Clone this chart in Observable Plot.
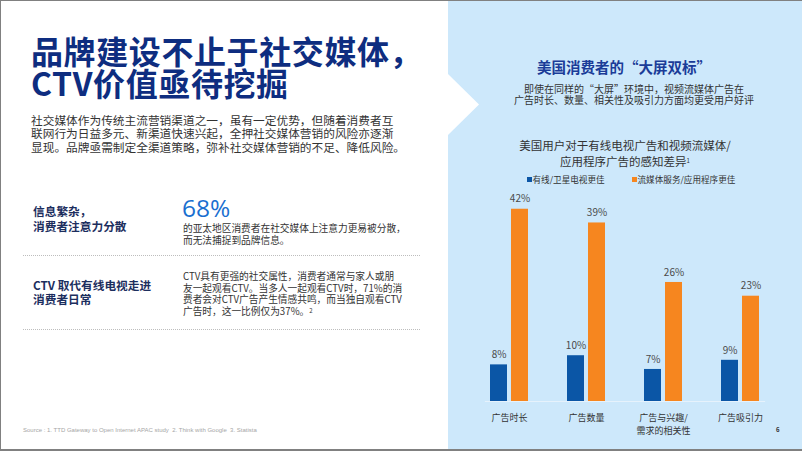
<!DOCTYPE html>
<html>
<head>
<meta charset="utf-8">
<script src="https://cdn.jsdelivr.net/npm/d3@7"></script>
<script src="https://cdn.jsdelivr.net/npm/@observablehq/plot@0.6"></script>
<style>
  html, body { margin: 0; padding: 0; background: #fff; }
  #slide { position: relative; width: 802px; height: 451px; overflow: hidden; background: #fff;
           font-family: "Noto Sans CJK SC", "Noto Sans", sans-serif; color: #333; }
  .ln { position: absolute; white-space: nowrap; overflow: visible; }
  #panel { position: absolute; left: 448px; top: 0; width: 354px; height: 451px; background: #cde8fb; }
  #chevron { position: absolute; left: 448px; top: 74px; width: 31px; height: 61px; background: #fff;
             clip-path: polygon(0 0, 100% 50%, 0 100%); }
  #frame { position: absolute; left: 0; top: 0; width: 802px; height: 451px; box-sizing: border-box;
           border-top: 1px solid #808080; border-left: 1px solid #808080; border-bottom: 2px solid #808080; pointer-events: none; }
  .dots { position: absolute; left: 23px; width: 397px; height: 0; border-top: 1.5px dotted #bdbdbd; }
  .sup { font-size: 6px; vertical-align: top; position: relative; top: -1px; }
  .sw { position: absolute; width: 5px; height: 5px; top: 177px; }
</style>
</head>
<body>
<div id="slide">
  <div id="panel"></div>
  <div id="chevron"></div>
  <div id="texts"></div>
  <div class="dots" style="top:255px;"></div>
  <div class="dots" style="top:329px;"></div>
  <div id="legend"></div>
  <div id="chart" style="position:absolute; left:448px; top:170px;"></div>
  <div id="frame"></div>
</div>
<script>
// ---- data ----
const categories = ["广告时长", "广告数量", "广告与兴趣/\n需求的相关性", "广告吸引力"];
const series = ["有线/卫星电视更佳", "流媒体服务/应用程序更佳"];
const cableValues = [8, 10, 7, 9];
const streamingValues = [42, 39, 26, 23];
const seriesColors = ["#0b56a6", "#f6861f"];

const rows = [];
categories.forEach((c, i) => {
  rows.push({category: c, series: series[0], value: cableValues[i]});
  rows.push({category: c, series: series[1], value: streamingValues[i]});
});

// ---- slide texts (one element per line) ----
const host = document.getElementById("texts");
function lines(x, top, lh, css, arr, width) {
  arr.forEach((t, i) => {
    const d = document.createElement("div");
    d.className = "ln";
    d.style.cssText = css;
    d.style.left = x + "px";
    d.style.top = (top + i * lh) + "px";
    d.style.height = lh + "px";
    d.style.lineHeight = lh + "px";
    if (width) { d.style.width = width + "px"; d.style.textAlign = "center"; }
    d.innerHTML = t;
    host.appendChild(d);
  });
}
lines(31, 34, 32, "font-size:32px;font-weight:700;color:#0e2d80;letter-spacing:0.6px;",
  ["品牌建设不止于社交媒体，", "CTV价值亟待挖掘"]);
lines(31, 112.5, 13.8, "font-size:11.7px;color:#333;",
  ["社交媒体作为传统主流营销渠道之一，虽有一定优势，但随着消费者互",
   "联网行为日益多元、新渠道快速兴起，全押社交媒体营销的风险亦逐渐",
   "显现。品牌亟需制定全渠道策略，弥补社交媒体营销的不足、降低风险。"]);
lines(33, 202.5, 15, "font-size:11.7px;font-weight:700;color:#1c2e5e;",
  ["信息繁杂，", "消费者注意力分散"]);
lines(182, 194, 28, "font-size:24.5px;font-family:'Open Sans','Noto Sans',sans-serif;color:#1a6fd0;", ["68%"]);
lines(183, 222, 12, "font-size:9.7px;color:#333;",
  ["的亚太地区消费者在社交媒体上注意力更易被分散，", "而无法捕捉到品牌信息。"]);
lines(33, 278, 14, "font-size:11.7px;font-weight:700;color:#1c2e5e;",
  ["CTV 取代有线电视走进", "消费者日常"]);
lines(183, 271, 11.7, "font-size:9.7px;color:#333;",
  ["CTV具有更强的社交属性，消费者通常与家人或朋",
   "友一起观看CTV。当多人一起观看CTV时，71%的消",
   "费者会对CTV广告产生情感共鸣，而当独自观看CTV",
   "广告时，这一比例仅为37%。<span class=\"sup\">2</span>"]);
lines(23, 426, 8, "font-size:6px;color:#a6a6a6;font-family:'Liberation Sans',sans-serif;",
  ["Source : 1. TTD Gateway to Open Internet APAC study&nbsp; 2. Think with Google&nbsp; 3. Statista"]);
lines(448, 58, 18, "font-size:14.5px;font-weight:700;color:#1b3c98;", ["美国消费者的“大屏双标”"], 352);
lines(466, 82.5, 11, "font-size:10px;color:#333;",
  ["即使在同样的“大屏”环境中，视频流媒体广告在", "广告时长、数量、相关性及吸引力方面均更受用户好评"], 336);
lines(448, 138.2, 15.6, "font-size:11.5px;color:#333;",
  ["美国用户对于有线电视广告和视频流媒体/", "应用程序广告的感知差异<span class=\"sup\">1</span>"], 354);
lines(776, 426, 8, "font-size:6px;color:#333;font-weight:700;", ["6"]);

// ---- legend ----
const legend = document.getElementById("legend");
const legendX = [[527, 532.5], [632, 637.5]];
series.forEach((s, i) => {
  const sw = document.createElement("div");
  sw.className = "sw";
  sw.style.left = legendX[i][0] + "px";
  sw.style.background = seriesColors[i];
  legend.appendChild(sw);
  const t = document.createElement("div");
  t.className = "ln";
  t.style.cssText = "font-size:8.6px;line-height:10px;height:10px;top:174px;color:#333;";
  t.style.left = legendX[i][1] + "px";
  t.textContent = s;
  legend.appendChild(t);
});

// ---- chart ----
const chart = Plot.plot({
  width: 354,
  height: 271,
  marginTop: 25,
  marginBottom: 40,
  marginLeft: 25,
  marginRight: 26,
  style: {background: "transparent", fontFamily: "'Noto Sans CJK SC', sans-serif", overflow: "visible"},
  fx: {domain: categories, paddingInner: 0.379, paddingOuter: 0.149, label: null},
  x: {domain: series, padding: 0.182, axis: null},
  y: {domain: [0, 45], axis: null},
  color: {domain: series, range: seriesColors},
  marks: [
    Plot.frame({anchor: "bottom", facet: "super", stroke: "#e6f2fc", strokeWidth: 1.2}),
    Plot.barY(rows, {fx: "category", x: "series", y: "value", fill: "series"}),
    Plot.text(rows, {fx: "category", x: "series", y: "value", text: d => d.value + "%", dy: -10, fontSize: 10, fill: "#4a4a4a"}),
    Plot.axisFx({anchor: "bottom", tickSize: 0, tickPadding: 10, fontSize: 9, lineHeight: 1.45, fill: "#333", label: null})
  ]
});
document.getElementById("chart").appendChild(chart);
</script>
</body>
</html>
